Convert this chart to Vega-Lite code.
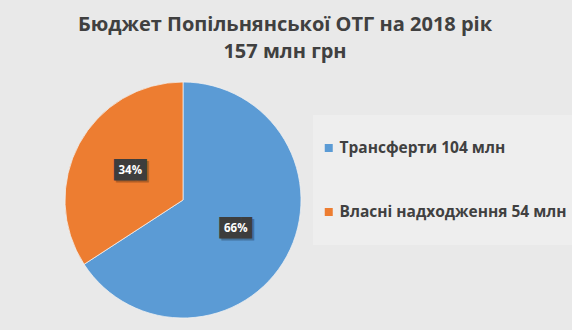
{
  "$schema": "https://vega.github.io/schema/vega-lite/v6.json",
  "width": 236,
  "height": 236,
  "autosize": {"type": "none"},
  "padding": {"left": 65, "top": 82, "right": 271, "bottom": 12},
  "background": "#e9e9e9",
  "title": {
    "text": ["Бюджет Попільнянської ОТГ на 2018 рік", "157 млн грн"],
    "anchor": "middle",
    "dx": 102,
    "offset": 19,
    "fontSize": 20,
    "font": "Open Sans",
    "fontWeight": "bold",
    "color": "#404040",
    "lineHeight": 27
  },
  "data": {
    "values": [
      {"category": "Трансферти 104 млн", "value": 104, "label": "66%"},
      {"category": "Власні надходження 54 млн", "value": 54, "label": "34%"}
    ]
  },
  "encoding": {
    "theta": {"field": "value", "type": "quantitative", "stack": true},
    "order": {"field": "value", "type": "quantitative", "sort": "descending"}
  },
  "layer": [
    {
      "mark": {"type": "arc", "stroke": "#f2f2f2", "strokeWidth": 0.75},
      "encoding": {
        "color": {
          "field": "category",
          "type": "nominal",
          "scale": {
            "domain": ["Трансферти 104 млн", "Власні надходження 54 млн"],
            "range": ["#5b9bd5", "#ed7d31"]
          },
          "legend": {
            "orient": "none",
            "direction": "vertical",
            "legendX": 248,
            "legendY": 33,
            "title": null,
            "fillColor": "#eeeeee",
            "padding": 8,
            "symbolType": "square",
            "symbolSize": 64,
            "symbolStrokeWidth": 0,
            "labelFont": "Open Sans",
            "labelFontSize": 15.5,
            "labelFontWeight": "bold",
            "labelColor": "#404040",
            "labelLimit": 300,
            "labelOffset": 3,
            "clipHeight": 50,
            "rowPadding": 14
          }
        }
      }
    },
    {
      "mark": {"type": "text", "radius": 60, "dx": 2, "dy": 2, "font": "DejaVu Sans Mono", "fontSize": 18, "text": "███", "color": "#000000", "opacity": 0.25}
    },
    {
      "mark": {"type": "text", "radius": 60, "font": "DejaVu Sans Mono", "fontSize": 18, "text": "███", "color": "#3d3d3d"}
    },
    {
      "mark": {"type": "text", "radius": 60, "font": "Open Sans", "fontSize": 11.5, "fontWeight": "bold", "color": "#ffffff"},
      "encoding": {"text": {"field": "label"}}
    }
  ]
}
